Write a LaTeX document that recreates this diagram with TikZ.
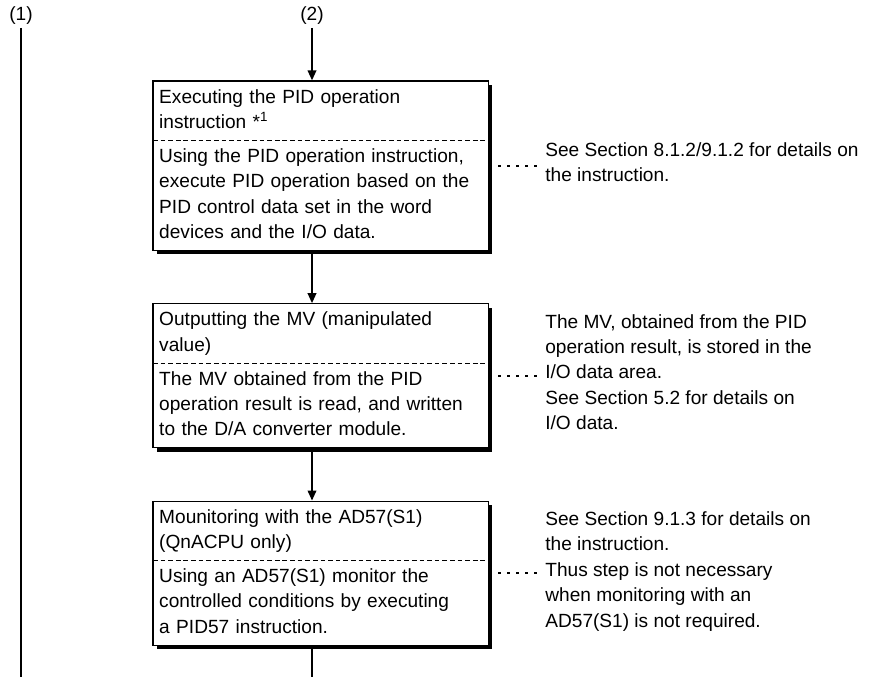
\documentclass[tikz,border=0pt]{standalone}
\usepackage{fontspec}
\setmainfont{Liberation Sans}
\usetikzlibrary{arrows.meta,positioning,fit,backgrounds,shadows}
\newcommand{\flujofont}{\fontsize{16.3pt}{21.7pt}\selectfont}
\tikzset{
  texto/.style={rectangle,inner xsep=0.18cm,inner ysep=0.12cm,align=left,font=\flujofont,
    execute at begin node=\strut,execute at end node=\strut},
  cabeza/.style={texto,text width=9.69cm},
  cuerpo/.style={cabeza},
  nota/.style={texto,inner xsep=0.15cm},
  etiqueta/.style={texto,inner sep=0pt},
  marco/.style={draw,line width=1.1pt,fill=white,inner sep=0pt,
    drop shadow={shadow xshift=0.12cm,shadow yshift=-0.12cm,fill=black,opacity=1}},
  corte/.style={line width=0.6pt,dash pattern=on 4pt off 2.5pt},
  flecha/.style={-{Triangle[length=0.3cm,width=0.26cm]},line width=1.4pt},
  linea/.style={line width=1.2pt},
  puntos/.style={line width=2.1pt,dash pattern=on 2.1pt off 5.6pt,shorten <=0.27cm,shorten >=0.06cm},
}
\begin{document}
\begin{tikzpicture}[x=0.03cm,y=-0.03cm,node distance=1.58cm]
  \useasboundingbox (0,0) rectangle (878,677);
  \coordinate (abajo) at (0,677);
  \node[etiqueta] (l1) at (21,15) {(1)};
  \node[etiqueta] (l2) at (312,15) {(2)};
  % paso 1
  \node[cabeza,anchor=north west] (h1) at (153,81) {Executing the PID operation\\instruction *\textsuperscript{1}};
  \node[cuerpo,below=0pt of h1] (b1) {Using the PID operation instruction,\\execute PID operation based on the\\PID control data set in the word\\devices and the I/O data.};
  % paso 2
  \begin{scope}[on background layer]
    \node[marco,fit=(h1)(b1)] (s1) {};
  \end{scope}
  \node[cabeza,below=of s1] (h2) {Outputting the MV (manipulated\\value)};
  \node[cuerpo,below=0pt of h2] (b2) {The MV obtained from the PID\\operation result is read, and written\\to the D/A converter module.};
  \begin{scope}[on background layer]
    \node[marco,fit=(h2)(b2)] (s2) {};
  \end{scope}
  % paso 3
  \node[cabeza,below=of s2] (h3) {Mounitoring with the AD57(S1)\\(QnACPU only)};
  \node[cuerpo,below=0pt of h3] (b3) {Using an AD57(S1) monitor the\\controlled conditions by executing\\a PID57 instruction.};
  \begin{scope}[on background layer]
    \node[marco,fit=(h3)(b3)] (s3) {};
  \end{scope}
  \draw[corte] (h1.south west) -- (h1.south east);
  \draw[corte] (h2.south west) -- (h2.south east);
  \draw[corte] (h3.south west) -- (h3.south east);
  % notas
  \node[nota,right=1.53cm of s1] (n1) {See Section 8.1.2/9.1.2 for details on\\the instruction.};
  \node[nota,right=1.53cm of s2] (n2) {The MV, obtained from the PID\\operation result, is stored in the\\I/O data area.\\See Section 5.2 for details on\\I/O data.};
  \node[nota,right=1.53cm of s3] (n3) {See Section 9.1.3 for details on\\the instruction.\\Thus step is not necessary\\when monitoring with an\\AD57(S1) is not required.};
  \draw[puntos] (s1.east) -- (n1.west);
  \draw[puntos] (s2.east) -- (n2.west);
  \draw[puntos] (s3.east) -- (n3.west);
  % flechas
  \draw[linea] (l1) -- (l1 |- abajo);
  \draw[flecha] (l2) -- (l2 |- s1.north);
  \draw[flecha] (s1.south -| l2) -- (s2.north -| l2);
  \draw[flecha] (s2.south -| l2) -- (s3.north -| l2);
  \draw[linea] (s3.south -| l2) -- (l2 |- abajo);
\end{tikzpicture}
\end{document}
